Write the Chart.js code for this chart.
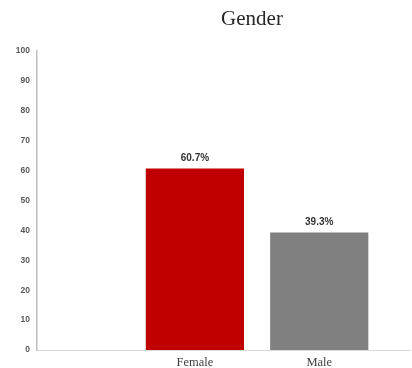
<!DOCTYPE html>
<html>
<head>
<meta charset="utf-8">
<script src="https://cdn.jsdelivr.net/npm/chart.js@4.4.1/dist/chart.umd.min.js"></script>
<style>
  html, body { margin: 0; padding: 0; background: #ffffff; }
  #wrap { position: relative; width: 412px; height: 368px; }
  #chart { display: block; }
  #title {
    position: absolute; top: 8px; left: 252px; transform: translateX(-50%);
    font-family: "Liberation Serif", "DejaVu Serif", serif; font-size: 21px;
    color: #262626; white-space: nowrap; margin: 0; font-weight: normal;
    line-height: 1;
  }
</style>
</head>
<body>
<div id="wrap">
  <canvas id="chart" width="412" height="368"></canvas>
  <h1 id="title">Gender</h1>
</div>
<script>
// Share of respondents by gender (percent)
const categories = ["Female", "Male"];
const positions = [1, 2];
const shares = [60.7, 39.3];
const barColors = ["#C00000", "#808080"];
const yTicks = [0, 10, 20, 30, 40, 50, 60, 70, 80, 90, 100];

// Prints each bar's value as a percentage just above the bar
const valueLabels = {
  id: "valueLabels",
  afterDatasetsDraw(chart) {
    const { ctx } = chart;
    const meta = chart.getDatasetMeta(0);
    ctx.save();
    ctx.font = "bold 10px 'Liberation Sans', 'DejaVu Sans', sans-serif";
    ctx.fillStyle = "#333333";
    ctx.textAlign = "center";
    ctx.textBaseline = "bottom";
    meta.data.forEach((bar, i) => {
      ctx.fillText(shares[i].toFixed(1) + "%", bar.x, bar.y - 5);
    });
    ctx.restore();
  }
};

new Chart(document.getElementById("chart"), {
  type: "bar",
  data: {
    datasets: [{
      data: positions.map((x, i) => ({ x: x, y: shares[i] })),
      backgroundColor: barColors,
      borderWidth: 0,
      barPercentage: 0.79,
      categoryPercentage: 1
    }]
  },
  options: {
    responsive: false,
    animation: false,
    layout: { padding: { top: 51, right: 2, left: 0, bottom: 0 } },
    plugins: {
      legend: { display: false },
      tooltip: { enabled: false },
      title: { display: false }
    },
    scales: {
      x: {
        type: "linear",
        min: -0.27,
        max: 2.73,
        offset: false,
        grid: { display: false, drawTicks: false },
        border: { display: true, color: "#d9d9d9", width: 1 },
        afterBuildTicks: (scale) => { scale.ticks = positions.map(v => ({ value: v })); },
        ticks: {
          callback: (value) => categories[positions.indexOf(value)] ?? "",
          font: { family: "'Liberation Serif', 'DejaVu Serif', serif", size: 12.5 },
          color: "#404040",
          padding: 5,
          maxRotation: 0,
          autoSkip: false
        },
        afterFit: (scale) => { scale.height = 18; }
      },
      y: {
        min: 0,
        max: 100,
        grid: { display: false, drawTicks: false },
        border: { display: true, color: "#bfbfbf", width: 1.5 },
        afterBuildTicks: (scale) => { scale.ticks = yTicks.map(v => ({ value: v })); },
        ticks: {
          font: { family: "'Liberation Sans', 'DejaVu Sans', sans-serif", size: 8.5, weight: "bold" },
          color: "#595959",
          padding: 7
        },
        afterFit: (scale) => { scale.width = 37; }
      }
    }
  },
  plugins: [valueLabels]
});
</script>
</body>
</html>
